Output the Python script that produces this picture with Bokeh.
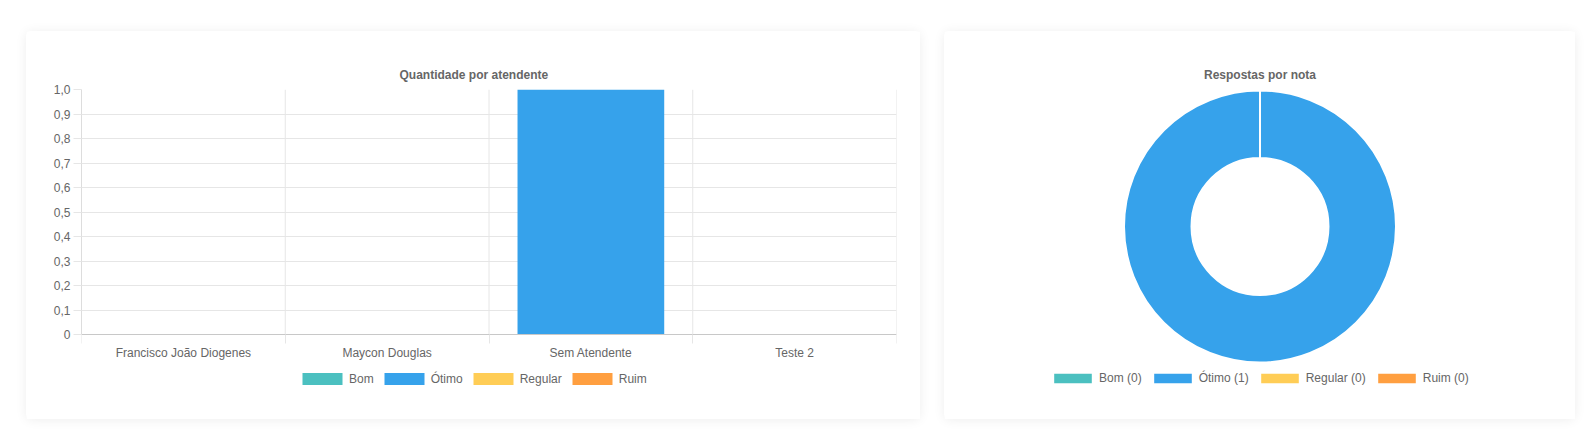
import numpy as np
from bokeh.plotting import figure
from bokeh.models import (ColumnDataSource, Range1d, FixedTicker, CustomJSTickFormatter,
                          Legend, LegendItem, CDSView, BooleanFilter)
from bokeh.layouts import row
from bokeh.embed import file_html
from bokeh.resources import INLINE

# ---------------- data ----------------
attendants = ["Francisco João Diogenes", "Maycon Douglas", "Sem Atendente", "Teste 2"]
ratings = ["Bom", "Ótimo", "Regular", "Ruim"]
bom = [0, 0, 0, 0]
otimo = [0, 0, 1, 0]
regular = [0, 0, 0, 0]
ruim = [0, 0, 0, 0]
rating_counts = [0, 1, 0, 0]
rating_colors = ["#4BC0C0", "#36A2EB", "#FFCD56", "#FF9F40"]
y_ticks = [0, 0.1, 0.2, 0.3, 0.4, 0.5, 0.6, 0.7, 0.8, 0.9, 1.0]
y_tick_labels = ["0", "0,1", "0,2", "0,3", "0,4", "0,5", "0,6", "0,7", "0,8", "0,9", "1,0"]
bar_title = "Quantidade por atendente"
pie_title = "Respostas por nota"

# ---------------- style / layout constants ----------------
FONT = "Liberation Sans"
TXT = "#666666"
GRID = "#e6e6e6"
ZERO = "#c8c8c8"
CARD = {"box-shadow": "0 1px 12px rgba(0,0,0,0.07)", "border-radius": "5px"}
CARD_W1, CARD_W2, CARD_H = 894, 631, 388
TOP, BOTTOM = 58, 28               # shared frame borders (frames are aligned in a row)
FRAME_H = CARD_H - TOP - BOTTOM    # 302 px
PLOT_H = 245                       # px from value 1.0 to value 0 in the bar chart
DONUT_CY = 195 - TOP               # donut centre, px below frame top

# ---------------- bar chart ----------------
n = len(attendants)
src = ColumnDataSource(dict(x=[i + 0.5 for i in range(n)], Bom=bom, Ótimo=otimo,
                            Regular=regular, Ruim=ruim))
ymax = y_ticks[-1]
ymin = y_ticks[0] - (FRAME_H - PLOT_H) / PLOT_H * (ymax - y_ticks[0])

p1 = figure(width=CARD_W1, height=CARD_H, x_range=Range1d(0, n), y_range=Range1d(ymin, ymax),
            output_backend="svg", toolbar_location=None,
            min_border_left=55, min_border_right=24, min_border_top=TOP, min_border_bottom=BOTTOM,
            border_fill_color="white", background_fill_color="white", outline_line_color=None,
            title=bar_title)
p1.margin = (31, 0, 0, 26)
p1.styles = CARD
p1.title.align = "left"
p1.title.offset = 318
p1.title.text_font = FONT
p1.title.text_font_size = "12px"
p1.title.text_font_style = "bold"
p1.title.text_color = TXT
p1.title.standoff = 16

# vertical grid lines at the category boundaries, spanning the value axis
gsrc = ColumnDataSource(dict(x=list(range(n + 1)), y0=[y_ticks[0]] * (n + 1), y1=[ymax] * (n + 1)))
p1.segment(x0="x", y0="y0", x1="x", y1="y1", source=gsrc, line_color=GRID, line_width=1, level="underlay")

rs = p1.vbar_stack(ratings, x="x", width=0.72, fill_color=rating_colors, line_color=None, source=src)

xa = p1.xaxis[0]
xa.fixed_location = y_ticks[0]
xa.ticker = FixedTicker(ticks=[i + 0.5 for i in range(n)], minor_ticks=list(range(n + 1)))
xa.formatter = CustomJSTickFormatter(args=dict(names=attendants), code="return names[Math.floor(tick)]")
xa.major_tick_line_color = None
xa.major_tick_out = 9
xa.major_tick_in = 0
xa.minor_tick_line_color = GRID
xa.minor_tick_out = 9
xa.minor_tick_in = 0
xa.axis_line_color = ZERO
xa.major_label_standoff = 2
xa.major_label_text_font = FONT
xa.major_label_text_font_size = "12px"
xa.major_label_text_color = TXT

ya = p1.yaxis[0]
ya.bounds = (y_ticks[0], ymax)
ya.ticker = FixedTicker(ticks=y_ticks, minor_ticks=[])
ya.formatter = CustomJSTickFormatter(
    args=dict(yt=y_ticks, yl=y_tick_labels),
    code="let b = 0; for (let i = 0; i < yt.length; i++) { if (Math.abs(yt[i]-tick) < Math.abs(yt[b]-tick)) b = i } return yl[b]")
ya.major_tick_out = 8
ya.major_tick_in = 0
ya.major_tick_line_color = GRID
ya.minor_tick_line_color = None
ya.axis_line_color = "#dddddd"
ya.major_label_standoff = 3
ya.major_label_text_font = FONT
ya.major_label_text_font_size = "12px"
ya.major_label_text_color = TXT

p1.xgrid.visible = False
p1.ygrid.ticker = FixedTicker(ticks=y_ticks)
p1.ygrid.grid_line_color = GRID

leg1 = Legend(items=[LegendItem(label=name, renderers=[r]) for name, r in zip(ratings, rs)],
              orientation="horizontal", location=(216, 5),
              glyph_width=50, glyph_height=15, label_height=15, label_standoff=2, spacing=5,
              padding=0, margin=0, border_line_color=None, background_fill_alpha=0,
              label_text_font=FONT, label_text_font_size="12px", label_text_color=TXT)
p1.add_layout(leg1)

# ---------------- doughnut ----------------
total = sum(rating_counts)
cum = np.cumsum([0] + rating_counts)
start = np.pi / 2 - 2 * np.pi * cum[:-1] / total
end = np.pi / 2 - 2 * np.pi * cum[1:] / total
dsrc = ColumnDataSource(dict(start=start, end=end, color=rating_colors,
                             label=[f"{r} ({c})" for r, c in zip(ratings, rating_counts)]))

p2 = figure(width=CARD_W2, height=CARD_H,
            x_range=Range1d(-CARD_W2 / 2, CARD_W2 / 2),
            y_range=Range1d(-(FRAME_H - DONUT_CY), DONUT_CY),
            output_backend="svg", toolbar_location=None,
            x_axis_location=None, y_axis_location=None,
            min_border_left=0, min_border_right=0, min_border_top=TOP, min_border_bottom=BOTTOM,
            border_fill_color="white", background_fill_color="white", outline_line_color=None,
            title=pie_title)
p2.margin = (31, 0, 0, 24)
p2.styles = CARD
p2.grid.visible = False
p2.title.align = "center"
p2.title.text_font = FONT
p2.title.text_font_size = "12px"
p2.title.text_font_style = "bold"
p2.title.text_color = TXT
p2.title.standoff = 16

nonzero = CDSView(filter=BooleanFilter([c > 0 for c in rating_counts]))
w = p2.annular_wedge(x=0, y=0, inner_radius=68.5, outer_radius=136, start_angle="start", end_angle="end",
                     direction="clock", fill_color="color", line_color="white", line_width=2,
                     source=dsrc, view=nonzero)
# zero-size legend proxies (one per rating) so that every rating gets a coloured key
proxies = [p2.rect(x=[0], y=[0], width=0, height=0, fill_color=c, line_color=None) for c in rating_colors]

leg2 = Legend(items=[LegendItem(label=lbl, renderers=[r]) for lbl, r in zip(dsrc.data["label"], proxies)],
              orientation="horizontal", location=(105, 6),
              glyph_width=47, glyph_height=12, label_height=12, label_standoff=3, spacing=7,
              padding=0, margin=0, border_line_color=None, background_fill_alpha=0,
              label_text_font=FONT, label_text_font_size="12px", label_text_color=TXT)
p2.add_layout(leg2)

layout = row(p1, p2)

open("out.html", "w").write(file_html(layout, INLINE))
